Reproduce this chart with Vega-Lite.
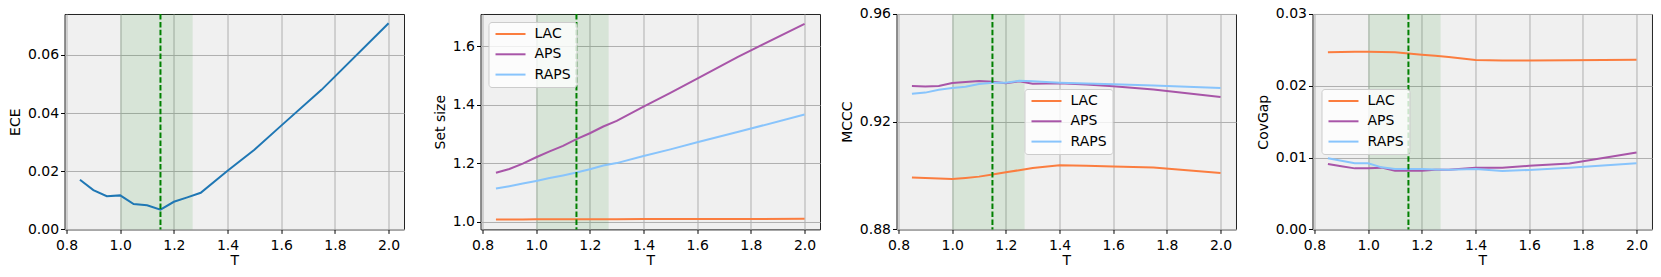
{
  "$schema": "https://vega.github.io/schema/vega-lite/v6.json",
  "background": "white",
  "padding": {"left": 7.5, "top": 6, "right": 2, "bottom": 2},
  "spacing": 76,
  "bounds": "flush",
  "datasets": {
    "band": [{"lo": 1.0, "hi": 1.27}],
    "opt": [{"T": 1.15}],
    "ece": [
      {"T": 0.85, "v": 0.0171}, {"T": 0.9, "v": 0.0135}, {"T": 0.95, "v": 0.0114}, {"T": 1.0, "v": 0.0117},
      {"T": 1.05, "v": 0.0087}, {"T": 1.1, "v": 0.0083}, {"T": 1.15, "v": 0.0068}, {"T": 1.2, "v": 0.0095},
      {"T": 1.25, "v": 0.0110}, {"T": 1.3, "v": 0.0126}, {"T": 1.4, "v": 0.0202}, {"T": 1.5, "v": 0.0274},
      {"T": 1.6, "v": 0.0357}, {"T": 1.75, "v": 0.0480}, {"T": 2.0, "v": 0.0709}
    ],
    "setsize": [
      {"T": 0.85, "method": "LAC", "v": 1.007}, {"T": 0.9, "method": "LAC", "v": 1.007}, {"T": 0.95, "method": "LAC", "v": 1.007},
      {"T": 1.0, "method": "LAC", "v": 1.008}, {"T": 1.05, "method": "LAC", "v": 1.008}, {"T": 1.1, "method": "LAC", "v": 1.008},
      {"T": 1.15, "method": "LAC", "v": 1.008}, {"T": 1.2, "method": "LAC", "v": 1.008}, {"T": 1.25, "method": "LAC", "v": 1.008},
      {"T": 1.3, "method": "LAC", "v": 1.008}, {"T": 1.4, "method": "LAC", "v": 1.009}, {"T": 1.5, "method": "LAC", "v": 1.009},
      {"T": 1.6, "method": "LAC", "v": 1.009}, {"T": 1.75, "method": "LAC", "v": 1.009}, {"T": 2.0, "method": "LAC", "v": 1.010},
      {"T": 0.85, "method": "APS", "v": 1.167}, {"T": 0.9, "method": "APS", "v": 1.180}, {"T": 0.95, "method": "APS", "v": 1.198},
      {"T": 1.0, "method": "APS", "v": 1.220}, {"T": 1.05, "method": "APS", "v": 1.240}, {"T": 1.1, "method": "APS", "v": 1.259},
      {"T": 1.15, "method": "APS", "v": 1.282}, {"T": 1.2, "method": "APS", "v": 1.302}, {"T": 1.25, "method": "APS", "v": 1.325},
      {"T": 1.3, "method": "APS", "v": 1.344}, {"T": 1.4, "method": "APS", "v": 1.393}, {"T": 1.5, "method": "APS", "v": 1.440},
      {"T": 1.6, "method": "APS", "v": 1.489}, {"T": 1.75, "method": "APS", "v": 1.562}, {"T": 2.0, "method": "APS", "v": 1.676},
      {"T": 0.85, "method": "RAPS", "v": 1.113}, {"T": 0.9, "method": "RAPS", "v": 1.121}, {"T": 0.95, "method": "RAPS", "v": 1.130},
      {"T": 1.0, "method": "RAPS", "v": 1.139}, {"T": 1.05, "method": "RAPS", "v": 1.149}, {"T": 1.1, "method": "RAPS", "v": 1.158},
      {"T": 1.15, "method": "RAPS", "v": 1.168}, {"T": 1.2, "method": "RAPS", "v": 1.179}, {"T": 1.25, "method": "RAPS", "v": 1.192},
      {"T": 1.3, "method": "RAPS", "v": 1.200}, {"T": 1.4, "method": "RAPS", "v": 1.224}, {"T": 1.5, "method": "RAPS", "v": 1.247},
      {"T": 1.6, "method": "RAPS", "v": 1.271}, {"T": 1.75, "method": "RAPS", "v": 1.306}, {"T": 2.0, "method": "RAPS", "v": 1.366}
    ],
    "mccc": [
      {"T": 0.85, "method": "LAC", "v": 0.8993}, {"T": 0.9, "method": "LAC", "v": 0.8991}, {"T": 0.95, "method": "LAC", "v": 0.8989},
      {"T": 1.0, "method": "LAC", "v": 0.8987}, {"T": 1.05, "method": "LAC", "v": 0.8991}, {"T": 1.1, "method": "LAC", "v": 0.8996},
      {"T": 1.15, "method": "LAC", "v": 0.9004}, {"T": 1.2, "method": "LAC", "v": 0.9012}, {"T": 1.25, "method": "LAC", "v": 0.9020},
      {"T": 1.3, "method": "LAC", "v": 0.9028}, {"T": 1.4, "method": "LAC", "v": 0.9038}, {"T": 1.5, "method": "LAC", "v": 0.9036},
      {"T": 1.6, "method": "LAC", "v": 0.9034}, {"T": 1.75, "method": "LAC", "v": 0.9030}, {"T": 2.0, "method": "LAC", "v": 0.9009},
      {"T": 0.85, "method": "APS", "v": 0.9333}, {"T": 0.9, "method": "APS", "v": 0.9331}, {"T": 0.95, "method": "APS", "v": 0.9333},
      {"T": 1.0, "method": "APS", "v": 0.9344}, {"T": 1.05, "method": "APS", "v": 0.9347}, {"T": 1.1, "method": "APS", "v": 0.9351},
      {"T": 1.15, "method": "APS", "v": 0.9348}, {"T": 1.2, "method": "APS", "v": 0.9343}, {"T": 1.25, "method": "APS", "v": 0.9350},
      {"T": 1.3, "method": "APS", "v": 0.9341}, {"T": 1.4, "method": "APS", "v": 0.9343}, {"T": 1.5, "method": "APS", "v": 0.9338},
      {"T": 1.6, "method": "APS", "v": 0.9332}, {"T": 1.75, "method": "APS", "v": 0.9320}, {"T": 2.0, "method": "APS", "v": 0.9292},
      {"T": 0.85, "method": "RAPS", "v": 0.9304}, {"T": 0.9, "method": "RAPS", "v": 0.9308}, {"T": 0.95, "method": "RAPS", "v": 0.9319},
      {"T": 1.0, "method": "RAPS", "v": 0.9325}, {"T": 1.05, "method": "RAPS", "v": 0.9330}, {"T": 1.1, "method": "RAPS", "v": 0.9340},
      {"T": 1.15, "method": "RAPS", "v": 0.9345}, {"T": 1.2, "method": "RAPS", "v": 0.9345}, {"T": 1.25, "method": "RAPS", "v": 0.9352},
      {"T": 1.3, "method": "RAPS", "v": 0.9350}, {"T": 1.4, "method": "RAPS", "v": 0.9345}, {"T": 1.5, "method": "RAPS", "v": 0.9342},
      {"T": 1.6, "method": "RAPS", "v": 0.9339}, {"T": 1.75, "method": "RAPS", "v": 0.9334}, {"T": 2.0, "method": "RAPS", "v": 0.9325}
    ],
    "covgap": [
      {"T": 0.85, "method": "LAC", "v": 0.02466}, {"T": 0.9, "method": "LAC", "v": 0.02470}, {"T": 0.95, "method": "LAC", "v": 0.02475},
      {"T": 1.0, "method": "LAC", "v": 0.02475}, {"T": 1.05, "method": "LAC", "v": 0.02472}, {"T": 1.1, "method": "LAC", "v": 0.02466},
      {"T": 1.15, "method": "LAC", "v": 0.02450}, {"T": 1.2, "method": "LAC", "v": 0.02432}, {"T": 1.25, "method": "LAC", "v": 0.02418},
      {"T": 1.3, "method": "LAC", "v": 0.02401}, {"T": 1.4, "method": "LAC", "v": 0.02359}, {"T": 1.5, "method": "LAC", "v": 0.02352},
      {"T": 1.6, "method": "LAC", "v": 0.02353}, {"T": 1.75, "method": "LAC", "v": 0.02357}, {"T": 2.0, "method": "LAC", "v": 0.02363},
      {"T": 0.85, "method": "APS", "v": 0.00911}, {"T": 0.9, "method": "APS", "v": 0.00880}, {"T": 0.95, "method": "APS", "v": 0.00850},
      {"T": 1.0, "method": "APS", "v": 0.00850}, {"T": 1.05, "method": "APS", "v": 0.00860}, {"T": 1.1, "method": "APS", "v": 0.00818},
      {"T": 1.15, "method": "APS", "v": 0.00818}, {"T": 1.2, "method": "APS", "v": 0.00818}, {"T": 1.25, "method": "APS", "v": 0.00830},
      {"T": 1.3, "method": "APS", "v": 0.00830}, {"T": 1.4, "method": "APS", "v": 0.00860}, {"T": 1.5, "method": "APS", "v": 0.00858},
      {"T": 1.6, "method": "APS", "v": 0.00885}, {"T": 1.75, "method": "APS", "v": 0.00919}, {"T": 2.0, "method": "APS", "v": 0.01072},
      {"T": 0.85, "method": "RAPS", "v": 0.00992}, {"T": 0.9, "method": "RAPS", "v": 0.00955}, {"T": 0.95, "method": "RAPS", "v": 0.00920},
      {"T": 1.0, "method": "RAPS", "v": 0.00922}, {"T": 1.05, "method": "RAPS", "v": 0.00864}, {"T": 1.1, "method": "RAPS", "v": 0.00842},
      {"T": 1.15, "method": "RAPS", "v": 0.00840}, {"T": 1.2, "method": "RAPS", "v": 0.00840}, {"T": 1.25, "method": "RAPS", "v": 0.00835},
      {"T": 1.3, "method": "RAPS", "v": 0.00832}, {"T": 1.4, "method": "RAPS", "v": 0.00840}, {"T": 1.5, "method": "RAPS", "v": 0.00815},
      {"T": 1.6, "method": "RAPS", "v": 0.00828}, {"T": 1.75, "method": "RAPS", "v": 0.00858}, {"T": 2.0, "method": "RAPS", "v": 0.00922}
    ]
  },
  "hconcat": [
    {
      "width": 339.5, "height": 215.4,
      "layer": [
        {"data": {"name": "band"}, "mark": {"type": "rect", "color": "#008000", "opacity": 0.1},
         "encoding": {"x": {"field": "lo", "type": "quantitative", "title": "T", "scale": {"domain": [0.7925, 2.0575], "nice": false, "zero": false}, "axis": {"values": [0.8, 1.0, 1.2, 1.4, 1.6, 1.8, 2.0], "format": ".1f"}}, "x2": {"field": "hi"}}},
        {"data": {"name": "ece"}, "mark": {"type": "line", "color": "#1f77b4", "strokeWidth": 2},
         "encoding": {"x": {"field": "T", "type": "quantitative", "title": "T"},
                      "y": {"field": "v", "type": "quantitative", "title": "ECE", "scale": {"domain": [0, 0.0741], "nice": false, "zero": false}, "axis": {"values": [0, 0.02, 0.04, 0.06], "format": ".2f"}}}},
        {"data": {"name": "opt"}, "mark": {"type": "rule", "color": "#008000", "strokeWidth": 2, "strokeDash": [5.5, 2.4]},
         "encoding": {"x": {"field": "T", "type": "quantitative", "title": "T"}}}
      ]
    },
    {
      "width": 339.5, "height": 215.4,
      "layer": [
        {"data": {"name": "band"}, "mark": {"type": "rect", "color": "#008000", "opacity": 0.1},
         "encoding": {"x": {"field": "lo", "type": "quantitative", "title": "T", "scale": {"domain": [0.7925, 2.0575], "nice": false, "zero": false}, "axis": {"values": [0.8, 1.0, 1.2, 1.4, 1.6, 1.8, 2.0], "format": ".1f"}}, "x2": {"field": "hi"}}},
        {"data": {"name": "setsize"}, "mark": {"type": "line", "strokeWidth": 2},
         "encoding": {"x": {"field": "T", "type": "quantitative", "title": "T"},
                      "y": {"field": "v", "type": "quantitative", "title": "Set size", "scale": {"domain": [0.9735, 1.7095], "nice": false, "zero": false}, "axis": {"values": [1.0, 1.2, 1.4, 1.6], "format": ".1f"}},
                      "color": {"field": "method", "type": "nominal", "scale": {"domain": ["LAC", "APS", "RAPS"], "range": ["#fb7d3f", "#a855a8", "#88c4fc"]},
                                "legend": {"orient": "none", "legendX": 8, "legendY": 8, "title": null,
                                           "symbolType": "M-1,0H5", "symbolSize": 100, "symbolStrokeWidth": 2,
                                           "labelFont": "DejaVu Sans", "labelFontSize": 14, "labelColor": "#000000", "labelOffset": 27,
                                           "rowPadding": 6.3, "padding": 5, "fillColor": "rgba(255,255,255,0.8)", "strokeColor": "#cccccc", "cornerRadius": 3}}}},
        {"data": {"name": "opt"}, "mark": {"type": "rule", "color": "#008000", "strokeWidth": 2, "strokeDash": [5.5, 2.4]},
         "encoding": {"x": {"field": "T", "type": "quantitative", "title": "T"}}}
      ]
    },
    {
      "width": 339.5, "height": 215.4,
      "layer": [
        {"data": {"name": "band"}, "mark": {"type": "rect", "color": "#008000", "opacity": 0.1},
         "encoding": {"x": {"field": "lo", "type": "quantitative", "title": "T", "scale": {"domain": [0.7925, 2.0575], "nice": false, "zero": false}, "axis": {"values": [0.8, 1.0, 1.2, 1.4, 1.6, 1.8, 2.0], "format": ".1f"}}, "x2": {"field": "hi"}}},
        {"data": {"name": "mccc"}, "mark": {"type": "line", "strokeWidth": 2},
         "encoding": {"x": {"field": "T", "type": "quantitative", "title": "T"},
                      "y": {"field": "v", "type": "quantitative", "title": "MCCC", "scale": {"domain": [0.88, 0.96], "nice": false, "zero": false}, "axis": {"values": [0.88, 0.92, 0.96], "format": ".2f"}},
                      "color": {"field": "method", "type": "nominal", "scale": {"domain": ["LAC", "APS", "RAPS"], "range": ["#fb7d3f", "#a855a8", "#88c4fc"]},
                                "legend": {"orient": "none", "legendX": 128, "legendY": 75, "title": null,
                                           "symbolType": "M-1,0H5", "symbolSize": 100, "symbolStrokeWidth": 2,
                                           "labelFont": "DejaVu Sans", "labelFontSize": 14, "labelColor": "#000000", "labelOffset": 27,
                                           "rowPadding": 6.3, "padding": 5, "fillColor": "rgba(255,255,255,0.8)", "strokeColor": "#cccccc", "cornerRadius": 3}}}},
        {"data": {"name": "opt"}, "mark": {"type": "rule", "color": "#008000", "strokeWidth": 2, "strokeDash": [5.5, 2.4]},
         "encoding": {"x": {"field": "T", "type": "quantitative", "title": "T"}}}
      ]
    },
    {
      "width": 339.5, "height": 215.4,
      "layer": [
        {"data": {"name": "band"}, "mark": {"type": "rect", "color": "#008000", "opacity": 0.1},
         "encoding": {"x": {"field": "lo", "type": "quantitative", "title": "T", "scale": {"domain": [0.7925, 2.0575], "nice": false, "zero": false}, "axis": {"values": [0.8, 1.0, 1.2, 1.4, 1.6, 1.8, 2.0], "format": ".1f"}}, "x2": {"field": "hi"}}},
        {"data": {"name": "covgap"}, "mark": {"type": "line", "strokeWidth": 2},
         "encoding": {"x": {"field": "T", "type": "quantitative", "title": "T"},
                      "y": {"field": "v", "type": "quantitative", "title": "CovGap", "scale": {"domain": [0, 0.03], "nice": false, "zero": false}, "axis": {"values": [0, 0.01, 0.02, 0.03], "format": ".2f"}},
                      "color": {"field": "method", "type": "nominal", "scale": {"domain": ["LAC", "APS", "RAPS"], "range": ["#fb7d3f", "#a855a8", "#88c4fc"]},
                                "legend": {"orient": "none", "legendX": 9, "legendY": 75, "title": null,
                                           "symbolType": "M-1,0H5", "symbolSize": 100, "symbolStrokeWidth": 2,
                                           "labelFont": "DejaVu Sans", "labelFontSize": 14, "labelColor": "#000000", "labelOffset": 27,
                                           "rowPadding": 6.3, "padding": 5, "fillColor": "rgba(255,255,255,0.8)", "strokeColor": "#cccccc", "cornerRadius": 3}}}},
        {"data": {"name": "opt"}, "mark": {"type": "rule", "color": "#008000", "strokeWidth": 2, "strokeDash": [5.5, 2.4]},
         "encoding": {"x": {"field": "T", "type": "quantitative", "title": "T"}}}
      ]
    }
  ],
  "resolve": {"scale": {"color": "independent"}, "legend": {"color": "independent"}},
  "config": {
    "font": "DejaVu Sans",
    "view": {"fill": "#f0f0f0", "stroke": "#222222", "strokeWidth": 1},
    "axis": {
      "domain": false, "grid": true, "gridColor": "#b0b0b0", "gridWidth": 1, "gridOpacity": 1,
      "ticks": true, "tickColor": "#000000", "tickSize": 4, "tickWidth": 1,
      "labelFont": "DejaVu Sans", "labelFontSize": 14, "labelColor": "#000000", "labelFlush": false, "labelOverlap": false,
      "titleFont": "DejaVu Sans", "titleFontSize": 14, "titleFontWeight": "normal", "titleColor": "#000000"
    },
    "axisX": {"labelPadding": 5, "titlePadding": 1},
    "axisY": {"labelPadding": 2, "titlePadding": 5}
  }
}
